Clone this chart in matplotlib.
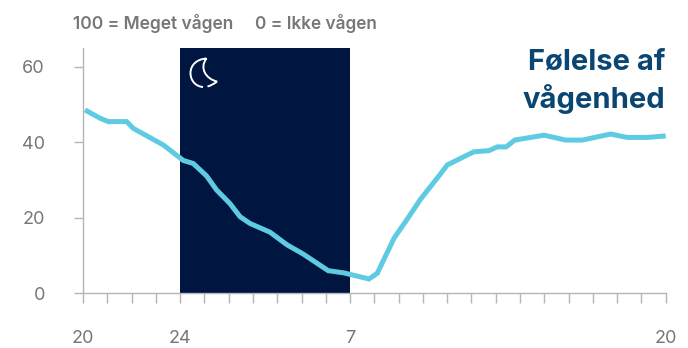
import matplotlib
matplotlib.use("Agg")
import matplotlib.pyplot as plt
from matplotlib.patches import PathPatch
from matplotlib.path import Path

plt.rcParams["font.family"] = ["Inter", "DejaVu Sans"]

# hours since 20:00 and reported wakefulness
hours = [0.08, 0.7, 1.04, 1.8, 2.07, 3.31, 4.13, 4.54, 5.09, 5.5, 6.05, 6.47, 6.88,
         7.7, 8.39, 9.07, 10.1, 10.75, 11.78, 12.12, 12.47, 12.81, 13.36, 13.91, 14.72,
         15.0, 16.1, 16.72, 17.06, 17.43, 17.78, 18.99, 19.88, 20.56, 21.73, 22.41, 23.24, 24.0]
wakefulness = [48.6, 46.4, 45.5, 45.5, 43.7, 39.3, 35.2, 34.4, 31.1, 27.4, 23.8, 20.3, 18.5,
               16.2, 12.9, 10.4, 6.0, 5.4, 3.8, 5.3, 10.0, 14.6, 19.7, 25.0, 31.6,
               34.0, 37.5, 37.8, 38.8, 38.8, 40.6, 41.9, 40.6, 40.6, 42.2, 41.3, 41.3, 41.7]
night_start, night_end = 4, 11
y_ticks = [0, 20, 40, 60]
x_label_pos = [0, 4, 11, 24]
x_labels = ["20", "24", "7", "20"]

W, H = 688, 348
GREY = "#77777a"
AXIS = "#b5b5b8"

fig = plt.figure(figsize=(W / 100, H / 100), dpi=100)
ax = fig.add_axes([83 / W, 1 - 293.3 / H, 582.7 / W, 245.3 / H])
ax.set_xlim(0, 24)
ax.set_ylim(0, 65)

ax.axvspan(night_start, night_end, color="#001540", lw=0, zorder=1)
ax.plot(hours, wakefulness, color="#5fcbe3", lw=3.6, solid_joinstyle="miter", solid_capstyle="butt",
        zorder=3, clip_on=False)

for side in ["top", "right"]:
    ax.spines[side].set_visible(False)
for side in ["left", "bottom"]:
    ax.spines[side].set_color(AXIS)
    ax.spines[side].set_linewidth(1.0)
    ax.spines[side].set_zorder(2)

ax.set_yticks(y_ticks)
ax.tick_params(axis="y", length=6.5, width=1.0, color=AXIS, labelcolor=GREY, labelsize=13, pad=21)
ax.set_xticks(range(25))
ax.set_xticklabels([])
ax.tick_params(axis="x", length=7, width=1.0, color=AXIS)

# hour labels sit well below the tick marks
for pos, label in zip(x_label_pos, x_labels):
    ax.annotate(label, (pos, 0), xytext=(0, -50), textcoords="offset pixels", ha="center", va="baseline",
                color=GREY, fontsize=13, annotation_clip=False)

fig.text(73 / W, 1 - 29 / H, "100 = Meget vågen", color=GREY, fontsize=12.5,
         fontweight="semibold", va="baseline")
fig.text(255 / W, 1 - 29 / H, "0 = Ikke vågen", color=GREY, fontsize=12.4,
         fontweight="semibold", va="baseline")

fig.text(665.5 / W, 1 - 69.5 / H, "Følelse af", color="#0b4672", fontsize=21, fontweight="bold",
         ha="right", va="baseline")
fig.text(665.5 / W, 1 - 108 / H, "vågenhed", color="#0b4672", fontsize=21, fontweight="bold",
         ha="right", va="baseline")


def fig_xy(x, y):
    return (x / W, 1 - y / H)


# crescent moon outline, open near the lower tip
moon_verts = [fig_xy(*p) for p in [
    (206.5, 58.5), (197, 59), (190.5, 65), (190.5, 73),
    (190.5, 81), (196, 86.5), (203, 87),
    (207.5, 86.5), (212, 85.5), (217, 81.5),
    (206, 79), (199, 68), (206.5, 58.5),
]]
moon_codes = [Path.MOVETO, Path.CURVE4, Path.CURVE4, Path.CURVE4,
              Path.CURVE4, Path.CURVE4, Path.CURVE4,
              Path.MOVETO, Path.CURVE3, Path.CURVE3,
              Path.CURVE4, Path.CURVE4, Path.CURVE4]
moon = PathPatch(Path(moon_verts, moon_codes), fill=False, edgecolor="white", lw=1.4,
                 transform=fig.transFigure, zorder=5)
fig.add_artist(moon)

fig.savefig("out.png", dpi=100)
